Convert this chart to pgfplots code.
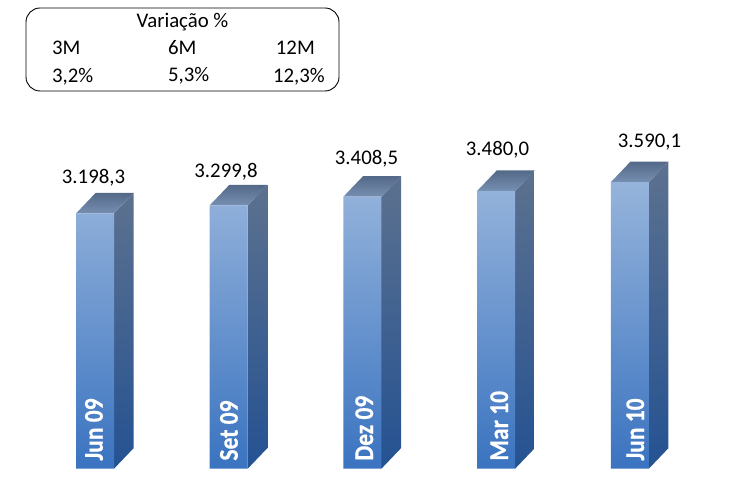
\documentclass[border=0pt]{standalone}
\usepackage{fontspec}
\setmainfont{Carlito}
\newfontfamily\barfont[UprightFont={* Bold},FakeBold=0.6]{Carlito}
\usepackage{pgfplots}
\pgfplotsset{compat=1.18}
\definecolor{frontA}{RGB}{150,180,219}
\definecolor{frontB}{RGB}{106,146,206}
\definecolor{frontC}{RGB}{58,115,192}
\definecolor{sideA}{RGB}{92,113,143}
\definecolor{sideB}{RGB}{36,82,146}
\definecolor{topA}{RGB}{84,105,136}
\definecolor{topB}{RGB}{118,143,178}
\pgfplotsset{
    side/.style={draw=none,mark=none,top color=sideA,bottom color=sideB},
    lid/.style={draw=none,mark=none,top color=topA,bottom color=topB},
}
\tikzset{barname/.style={rotate=90,xscale=0.87,anchor=base west,inner sep=0pt,white,
    font=\barfont\fontsize{27}{27}\selectfont}}
\begin{document}
\begin{tikzpicture}[x=1pt,y=1pt]
\useasboundingbox (0,0) rectangle (747,497);
\begin{axis}[
    at={(0pt,0pt)},anchor=south west,
    scale only axis,width=747pt,height=497pt,
    xmin=0,xmax=747,ymin=-354.6,ymax=5873.4,
    hide axis,clip=false,
]
% sides
\addplot[side] coordinates {(114,0) (133.6,257) (133.6,3455.3) (114,3198.3)} --cycle;
\addplot[side] coordinates {(247.7,0) (267.3,257) (267.3,3556.8) (247.7,3299.8)} --cycle;
\addplot[side] coordinates {(381.4,0) (401,257) (401,3665.5) (381.4,3408.5)} --cycle;
\addplot[side] coordinates {(515.1,0) (534.7,257) (534.7,3737) (515.1,3480)} --cycle;
\addplot[side] coordinates {(648.8,0) (668.4,257) (668.4,3847.1) (648.8,3590.1)} --cycle;
% tops
\addplot[lid] coordinates {(76,3198.3) (114,3198.3) (133.6,3455.3) (95.6,3455.3)} --cycle;
\addplot[lid] coordinates {(209.7,3299.8) (247.7,3299.8) (267.3,3556.8) (229.3,3556.8)} --cycle;
\addplot[lid] coordinates {(343.4,3408.5) (381.4,3408.5) (401,3665.5) (363,3665.5)} --cycle;
\addplot[lid] coordinates {(477.1,3480) (515.1,3480) (534.7,3737) (496.7,3737)} --cycle;
\addplot[lid] coordinates {(610.8,3590.1) (648.8,3590.1) (668.4,3847.1) (630.4,3847.1)} --cycle;
% fronts
\addplot[ybar,bar shift=0pt,bar width=38pt,draw=none,
    top color=frontA,middle color=frontB,bottom color=frontC]
    coordinates {(95,3198.3) (228.7,3299.8) (362.4,3408.5) (496.1,3480) (629.8,3590.1)};
% values
\node[anchor=base,font=\fontsize{20.8}{20.8}\selectfont] at (axis cs:93.5,3568) {3.198,3};
\node[anchor=base,font=\fontsize{20.8}{20.8}\selectfont] at (axis cs:226,3643) {3.299,8};
\node[anchor=base,font=\fontsize{20.8}{20.8}\selectfont] at (axis cs:366.5,3812) {3.408,5};
\node[anchor=base,font=\fontsize{20.8}{20.8}\selectfont] at (axis cs:497.5,3925) {3.480,0};
\node[anchor=base,font=\fontsize{20.8}{20.8}\selectfont] at (axis cs:649.5,4019) {3.590,1};
% category names inside the bars
\node[barname] at (axis cs:102.7,100) {Jun 09};
\node[barname] at (axis cs:237.7,100) {Set 09};
\node[barname] at (axis cs:373,100) {Dez 09};
\node[barname] at (axis cs:508,100) {Mar 10};
\node[barname] at (axis cs:644,100) {Jun 10};
\end{axis}
% variation box, coordinates are image pixels with y flipped
\draw[black,line width=0.9pt,rounded corners=14pt] (26,406) rectangle (339,489);
\begin{scope}[every node/.style={inner sep=0pt,font=\fontsize{20.8}{20.8}\selectfont}]
\node[anchor=base] at (182.5,469) {Variação \%};
\node[anchor=base west] at (52,442) {3M};
\node[anchor=base west] at (168,442) {6M};
\node[anchor=base east] at (315,442) {12M};
\node[anchor=base west] at (52,414) {3,2\%};
\node[anchor=base west] at (168,415) {5,3\%};
\node[anchor=base east] at (325,414) {12,3\%};
\end{scope}
\end{tikzpicture}
\end{document}
